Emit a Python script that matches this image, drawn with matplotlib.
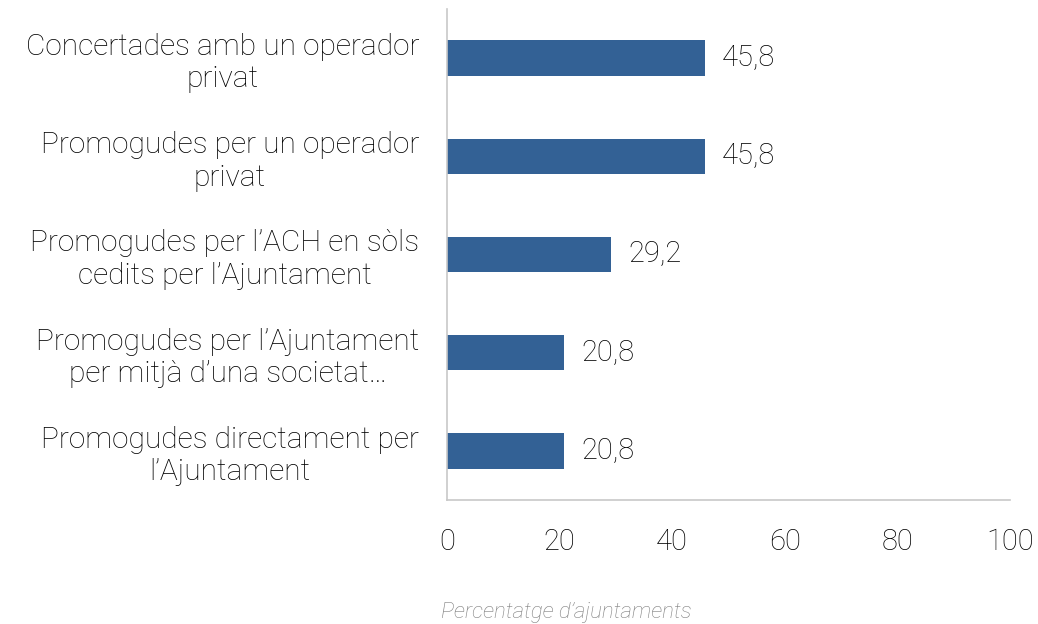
import matplotlib
matplotlib.use('Agg')
from matplotlib import pyplot as plt

categories = [
    'Concertades amb un operador\nprivat',
    'Promogudes per un operador\nprivat',
    'Promogudes per l\u2019ACH en sòls\ncedits per l\u2019Ajuntament',
    'Promogudes per l\u2019Ajuntament\nper mitjà d\u2019una societat\u2026',
    'Promogudes directament per\nl\u2019Ajuntament',
]
values = [45.8, 45.8, 29.2, 20.8, 20.8]
value_labels = ['45,8', '45,8', '29,2', '20,8', '20,8']
xticks = [0, 20, 40, 60, 80, 100]

plt.rcParams['font.family'] = ['Roboto', 'DejaVu Sans']
plt.rcParams['font.weight'] = 'light'

fig = plt.figure(figsize=(10.38, 6.24), dpi=100)
ax = fig.add_axes([0.4306, 0.1987, 0.5424, 0.787])

pos = list(range(len(categories)))[::-1]
ax.barh(pos, values, height=0.36, color='#336195')
for p, v, lab in zip(pos, values, value_labels):
    ax.text(v + 3.0, p, lab, va='center', ha='left', fontsize=21,
            color='#000000', fontweight='light')

ax.set_xlim(0, 100)
ax.set_ylim(-0.5, 4.5)
ax.set_xticks(xticks)
ax.set_xticklabels([str(t) for t in xticks], fontsize=21, fontweight='light')
ax.set_yticks(pos)
ax.set_yticklabels(categories, fontsize=21.5, fontweight='light')
for lbl in ax.get_yticklabels():
    lbl.set_multialignment('center')
ax.tick_params(axis='both', length=0, colors='#000000')
ax.tick_params(axis='x', pad=20)
ax.tick_params(axis='y', pad=20)
for s in ['top', 'right']:
    ax.spines[s].set_visible(False)
for s in ['left', 'bottom']:
    ax.spines[s].set_color('#c8c8c8')
    ax.spines[s].set_linewidth(1.2)

fig.text(0.546, 0.019, 'Percentatge d\u2019ajuntaments', ha='center',
         va='center', fontsize=16, style='italic', color='#7f7f7f',
         fontweight='light')

plt.savefig('out.png', dpi=100)
